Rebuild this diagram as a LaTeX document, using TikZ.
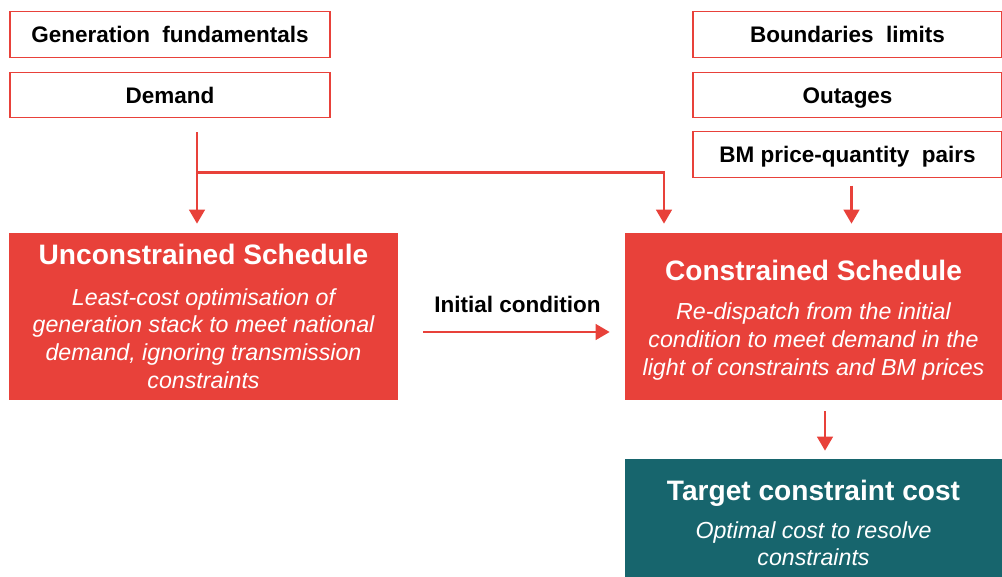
\documentclass[tikz,border=0pt]{standalone}
\usepackage{fontspec}
\setmainfont{Liberation Sans}
\usetikzlibrary{positioning, arrows.meta, calc}

\definecolor{schedred}{HTML}{E8413A}
\definecolor{costteal}{HTML}{17656D}

\tikzset{
	inputbox/.style={draw=schedred, line width=0.8pt, rectangle, text centered, minimum height=1.13cm,
		text height=12.4pt, text depth=1pt, font=\fontsize{16}{19}\selectfont\bfseries},
	stagebox/.style={rectangle, fill=schedred, text=white, align=center, inner sep=0pt,
		font=\fontsize{16.5}{19.8}\selectfont\itshape},
	flow/.style={draw=schedred, line width=2.1pt, -{Triangle[width=11pt,length=10pt]}},
}
\newcommand{\stagetitle}[1]{{\fontsize{20}{24}\selectfont\bfseries\upshape #1}}

\begin{document}
\begin{tikzpicture}
			\useasboundingbox (0,0) rectangle (25.05,-14.4);
			
			% inputs on the left
			\node (genfund) at (4.25,-0.8625) [inputbox, minimum width=8cm]{Generation\ \ fundamentals};
			\node (demand) at (4.25,-2.375) [inputbox, minimum width=8cm]{Demand};
			
			% inputs on the right
			\node (bounds) at (21.1875,-0.8625) [inputbox, minimum width=7.725cm]{Boundaries\ \ limits};
			\node (outages) at (21.1875,-2.375) [inputbox, minimum width=7.725cm]{Outages};
			\node (bmpairs) at (21.1875,-3.8625) [inputbox, minimum width=7.725cm]{BM price-quantity\ \ pairs};
			
			\node (uncon) at (5.0875,-7.9125) [stagebox, minimum width=9.725cm, minimum height=4.175cm]
			{\stagetitle{Unconstrained Schedule}\\[9pt]
				Least-cost optimisation of\\generation stack to meet national\\demand, ignoring transmission\\constraints};
			
			\node (con) at (20.3375,-7.9125) [stagebox, minimum width=9.425cm, minimum height=4.175cm]
			{\rule{0pt}{20pt}\stagetitle{Constrained Schedule}\\[8pt]
				Re-dispatch from the initial\\condition to meet demand in the\\light of constraints and BM prices};
			
			\node (target) at (20.3375,-13.075) [stagebox, fill=costteal, minimum width=9.425cm, minimum height=3.2cm]
			{\stagetitle{Target constraint cost}\\[7pt]
				Optimal cost to resolve\\constraints};
			
			% demand feeds both schedules
			\coordinate (dtap) at ($(demand.south)+(0.675,-0.35)$);
			\coordinate (split) at ($(dtap)+(0,-1)$);
			\draw[flow, shorten >=0.225cm] (dtap) -- (dtap |- uncon.north);
			\draw[flow, shorten >=0.225cm] (split) -| ($(con.north)+(-3.7375,0)$);
			
			\draw[flow, shorten >=0.225cm] ($(bmpairs.south)+(0.1,-0.2)$) coordinate (bmtap) -- (bmtap |- con.north);
			
			\coordinate (icstart) at ($(uncon.east)+(0.625,-0.3875)$);
			\draw[flow, shorten >=0.375cm] (icstart) -- (icstart -| con.west);
			\node (iclabel) at (12.9375,-7.6) [font=\fontsize{16}{19}\selectfont\bfseries]{Initial condition};
			
			\draw[flow, shorten >=0.2cm] ($(con.south)+(0.2875,-0.275)$) coordinate (contap) -- (contap |- target.north);
			
\end{tikzpicture}
\end{document}
